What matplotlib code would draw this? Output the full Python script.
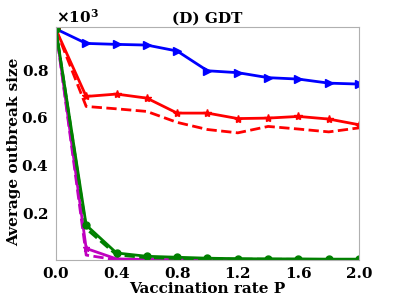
import matplotlib

matplotlib.use("Agg")
import matplotlib.pyplot as plt
from matplotlib.ticker import ScalarFormatter

P = [0.0, 0.2, 0.4, 0.6, 0.8, 1.0, 1.2, 1.4, 1.6, 1.8, 2.0]

blue = [972, 911, 907, 904, 879, 796, 788, 767, 761, 744, 740]
red = [970, 688, 698, 681, 618, 618, 595, 597, 604, 593, 569]
red_d = [970, 646, 636, 625, 579, 549, 535, 562, 551, 539, 556]
green = [972, 147, 30, 16, 12, 8, 6, 5, 5, 4, 4]
green_d = [972, 132, 22, 10, 7, 5, 4, 4, 3, 3, 3]
mag = [972, 49, 5, 3, 2, 2, 2, 2, 2, 2, 2]
mag_d = [972, 21, 1, 1, 1, 1, 1, 1, 1, 1, 1]

plt.rcParams["font.family"] = "DejaVu Serif"
plt.rcParams["font.weight"] = "bold"

fig = plt.figure(figsize=(3.99, 3.0), dpi=100)
ax = fig.add_axes([0.140, 0.133, 0.760, 0.777])

ax.plot(P, blue, "-", color="blue", lw=2, marker=">", ms=6)
ax.plot(P, red, "-", color="red", lw=2, marker="*", ms=6)
ax.plot(P, red_d, "--", color="red", lw=2)
ax.plot(P, mag, "-", color="m", lw=2, marker="*", ms=5)
ax.plot(P, mag_d, "--", color="m", lw=2)
ax.plot(P, green, "-", color="green", lw=2, marker="o", ms=5)
ax.plot(P, green_d, "--", color="green", lw=2)

ax.set_xlim(0, 2.0)
ax.set_ylim(0, 980)
ax.set_xticks([0.0, 0.4, 0.8, 1.2, 1.6, 2.0])
ax.set_yticks([200, 400, 600, 800])
fmt = ScalarFormatter(useMathText=True)
fmt.set_powerlimits((3, 3))
ax.yaxis.set_major_formatter(fmt)
ax.yaxis.get_offset_text().set_fontsize(11)
ax.yaxis.get_offset_text().set_fontweight("bold")
ax.tick_params(length=0, labelsize=11, pad=5)
for lab in ax.get_xticklabels() + ax.get_yticklabels():
    lab.set_fontweight("bold")
for s in ax.spines.values():
    s.set_color("#b0b0b0")

ax.set_xlabel("Vaccination rate P", fontsize=11, fontweight="bold", labelpad=1)
ax.set_ylabel("Average outbreak size", fontsize=11, fontweight="bold")
ax.yaxis.set_label_coords(-0.115, 0.465)
ax.set_title("(D) GDT", fontsize=11, fontweight="bold", pad=3)

fig.savefig("out.png", dpi=100)
